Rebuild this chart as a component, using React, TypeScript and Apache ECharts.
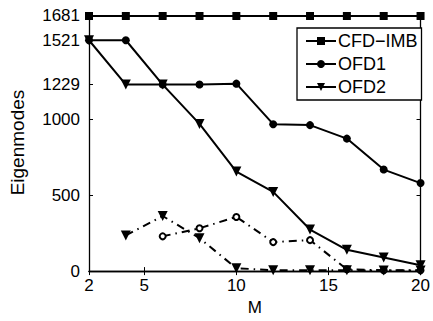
import React, { useEffect, useRef } from "react";
import * as echarts from "echarts";

const mValues = [2, 4, 6, 8, 10, 12, 14, 16, 18, 20];
const cfdImb = [1681, 1681, 1681, 1681, 1681, 1681, 1681, 1681, 1681, 1681];
const ofd1 = [1521, 1521, 1229, 1229, 1235, 968, 962, 873, 669, 580];
const ofd2 = [1521, 1229, 1229, 970, 656, 522, 274, 140, 89, 38];
const ofd1Dashed: [number, number][] = [[6, 229], [8, 282], [10, 357], [12, 191], [14, 204], [16, 12], [18, 5], [20, 5]];
const ofd2Dashed: [number, number][] = [[4, 235], [6, 363], [8, 217], [10, 19], [12, 6], [14, 6], [16, 5], [18, 4], [20, 4]];
const yTicks = [0, 500, 1000, 1229, 1521, 1681];
const xTicks = [2, 5, 10, 15, 20];

const FONT = "Liberation Sans, Arial, sans-serif";

export default function App() {
  const ref = useRef<HTMLDivElement>(null);
  useEffect(() => {
    if (!ref.current) return;
    const chart = echarts.init(ref.current, undefined, { renderer: "svg" });
    const pairs = (ys: number[]) => mValues.map((m, i) => [m, ys[i]]);
    const axisLine = { show: true, lineStyle: { color: "#000", width: 1.3 } };
    const tick = (vals: number[]) => ({ show: true, inside: true, length: 4, customValues: vals, lineStyle: { color: "#000", width: 1 } });
    const fmt = (v: number) => String(v);
    chart.setOption({
      animation: false,
      backgroundColor: "#fff",
      grid: { left: 82, right: 9, top: 14, bottom: 41, containLabel: false },
      xAxis: [
        {
          type: "value", min: 2, max: 20, position: "bottom",
          name: "M", nameLocation: "middle", nameGap: 24,
          nameTextStyle: { color: "#000", fontSize: 17, fontFamily: FONT },
          axisLine, axisTick: tick(xTicks), splitLine: { show: false },
          axisLabel: { color: "#000", fontSize: 17, fontFamily: FONT, margin: 6, customValues: xTicks, formatter: fmt },
        },
        {
          type: "value", min: 2, max: 20, position: "top",
          axisLine, axisTick: tick(xTicks), splitLine: { show: false }, axisLabel: { show: false },
        },
      ],
      yAxis: [
        {
          type: "value", min: 0, max: 1694, position: "left",
          name: "Eigenmodes", nameLocation: "middle", nameGap: 62,
          nameTextStyle: { color: "#000", fontSize: 19, fontFamily: FONT },
          axisLine, axisTick: tick(yTicks), splitLine: { show: false },
          axisLabel: { color: "#000", fontSize: 17, fontFamily: FONT, margin: 9, customValues: yTicks, formatter: fmt },
        },
        {
          type: "value", min: 0, max: 1694, position: "right",
          axisLine, axisTick: tick(yTicks), splitLine: { show: false }, axisLabel: { show: false },
        },
      ],
      legend: {
        data: ["CFD\u2212IMB", "OFD1", "OFD2"],
        orient: "vertical",
        left: 297, top: 28,
        itemWidth: 30, itemHeight: 10, itemGap: 5,
        padding: [4, 4, 4, 8],
        borderColor: "#000", borderWidth: 1.3, backgroundColor: "#fff",
        textStyle: { color: "#000", fontSize: 18, fontFamily: FONT, padding: [0, 0, 0, -3], lineHeight: 18 },
      },
      series: [
        {
          name: "CFD\u2212IMB", type: "line", data: pairs(cfdImb),
          symbol: "rect", symbolSize: 8,
          lineStyle: { color: "#000", width: 2 }, itemStyle: { color: "#000" }, z: 3,
        },
        {
          name: "OFD1", type: "line", data: pairs(ofd1),
          symbol: "circle", symbolSize: 8,
          lineStyle: { color: "#000", width: 2 }, itemStyle: { color: "#000" },
        },
        {
          name: "OFD2", type: "line", data: pairs(ofd2),
          symbol: "triangle", symbolRotate: 180, symbolSize: 10,
          lineStyle: { color: "#000", width: 2 }, itemStyle: { color: "#000" },
        },
        {
          name: "OFD1 dashed", type: "line", data: ofd1Dashed,
          symbol: "emptyCircle", symbolSize: 6, showSymbol: true,
          lineStyle: { color: "#000", width: 2, type: [8, 5, 1.5, 5] },
          itemStyle: { color: "#000", borderColor: "#000", borderWidth: 2 },
        },
        {
          name: "OFD2 dashed", type: "line", data: ofd2Dashed,
          symbol: "triangle", symbolRotate: 180, symbolSize: 10,
          lineStyle: { color: "#000", width: 2, type: [8, 5, 1.5, 5] },
          itemStyle: { color: "#000" },
        },
      ],
    });
    return () => chart.dispose();
  }, []);
  return <div ref={ref} style={{ width: 433, height: 321, position: "fixed", left: 0, top: 0 }} />;
}
